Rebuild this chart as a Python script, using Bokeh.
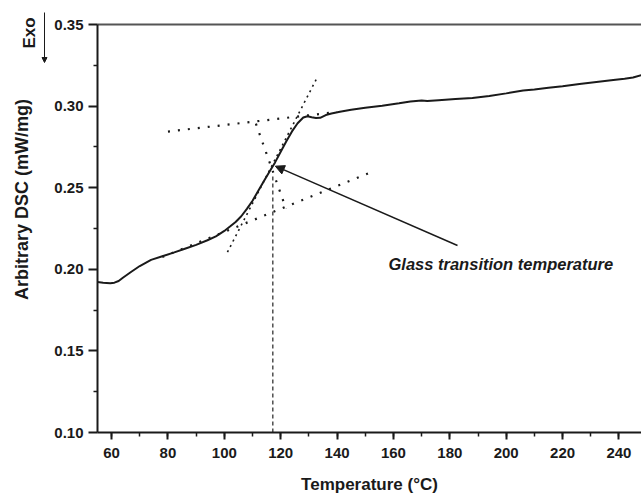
import math

from bokeh.core.properties import value
from bokeh.embed import file_html
from bokeh.layouts import row
from bokeh.models import (Arrow, FixedTicker, Label, LinearAxis, NormalHead,
                          NumeralTickFormatter, Range1d, SingleIntervalTicker)
from bokeh.plotting import figure
from bokeh.resources import INLINE

# DSC trace: temperature (°C) and heat flow (mW/mg)
temperature = [55, 57, 59.5, 61, 62.5, 64, 67, 70, 74, 78, 82, 86, 90, 94, 97,
               100, 102, 104, 106, 108, 110, 112, 114, 116, 118, 120, 122, 124,
               126, 128, 129.5, 131, 132.5, 134, 136, 138, 141, 145, 150, 156,
               162, 166, 170, 172, 176, 182, 188, 194, 200, 206, 210, 215, 220,
               226, 232, 238, 242, 245, 248]
dsc = [0.1922, 0.1918, 0.1915, 0.1918, 0.1928, 0.1948, 0.1985, 0.2020, 0.2058,
       0.2080, 0.2102, 0.2126, 0.2150, 0.2178, 0.2202, 0.2235, 0.2262, 0.2290,
       0.2325, 0.2370, 0.2420, 0.2480, 0.2540, 0.2598, 0.2655, 0.2720, 0.2785,
       0.2845, 0.2895, 0.2930, 0.2938, 0.2932, 0.2927, 0.2928, 0.2945, 0.2955,
       0.2966, 0.2978, 0.2990, 0.3002, 0.3017, 0.3028, 0.3035, 0.3031, 0.3036,
       0.3043, 0.3050, 0.3062, 0.3078, 0.3095, 0.3102, 0.3112, 0.3122, 0.3136,
       0.3148, 0.3160, 0.3168, 0.3175, 0.3190]

# Tangent construction used to locate Tg
upper_base_t = [80, 140]
upper_base_v = [0.2844, 0.2964]
lower_base_t = [78, 152]
lower_base_v = [0.2075, 0.2595]
steep_t = [101.1, 133.0]
steep_v = [0.2105, 0.3177]
bisect_t = [111.2, 121.9]
bisect_v = [0.2892, 0.2371]

tg = 117.2          # glass transition temperature
tg_signal = 0.2632  # curve value at Tg

y_ticks = [0.10, 0.15, 0.20, 0.25, 0.30, 0.35]
y_minor = [0.125, 0.175, 0.225, 0.275, 0.325]

X0, X1 = 55, 248
Y0, Y1 = 0.10, 0.35
W, H = 641, 496
SIDE = 50                      # strip holding the vertical titles
LEFT, RIGHT, TOP, BOTTOM = 97, 0, 24, 64
FW = W - LEFT - RIGHT
FH = H - TOP - BOTTOM


def dx(px):
    """canvas x pixel -> data x"""
    return X0 + (px - LEFT) * (X1 - X0) / FW


def dy(py):
    """canvas y pixel -> data y"""
    return Y0 + (H - BOTTOM - py) * (Y1 - Y0) / FH


FONT = "Liberation Sans"
INK = "#1a1a1a"

p = figure(width=W - SIDE, height=H, x_range=Range1d(X0, X1),
           y_range=Range1d(Y0, Y1),
           output_backend="svg", toolbar_location=None,
           min_border_left=LEFT - SIDE, min_border_right=RIGHT,
           min_border_top=TOP, min_border_bottom=BOTTOM,
           x_axis_location=None, y_axis_location=None)
p.frame_align = False
p.xgrid.visible = False
p.ygrid.visible = False
p.outline_line_color = None
p.background_fill_color = "white"
p.border_fill_color = "white"

xaxis = LinearAxis(ticker=SingleIntervalTicker(interval=20, num_minor_ticks=2),
                   axis_label="Temperature (°C)")
yaxis = LinearAxis(ticker=FixedTicker(ticks=y_ticks, minor_ticks=y_minor),
                   formatter=NumeralTickFormatter(format="0.00"))
for ax, tout in ((xaxis, 7), (yaxis, 9)):
    ax.axis_line_color = INK
    ax.axis_line_width = 2
    ax.major_tick_line_color = INK
    ax.minor_tick_line_color = INK
    ax.major_tick_line_width = 2
    ax.minor_tick_line_width = 1.5
    ax.major_tick_in = 0
    ax.minor_tick_in = 0
    ax.major_tick_out = tout
    ax.minor_tick_out = 4
    ax.major_label_text_font = FONT
    ax.major_label_text_font_style = "bold"
    ax.major_label_text_font_size = "15px"
    ax.major_label_text_color = INK
    ax.major_label_standoff = 5
xaxis.major_label_standoff = 8
xaxis.axis_label_text_font = FONT
xaxis.axis_label_text_font_style = "bold"
xaxis.axis_label_text_font_size = "17px"
xaxis.axis_label_text_color = INK
xaxis.axis_label_standoff = 14
p.add_layout(xaxis, "below")
p.add_layout(yaxis, "left")

top = LinearAxis(ticker=FixedTicker(ticks=[]), axis_line_color="#555555",
                 axis_line_width=2, major_tick_out=0, minor_tick_out=0,
                 major_label_text_font_size="0px")
p.add_layout(top, "above")

# construction lines
p.line(upper_base_t, upper_base_v, line_color=INK, line_width=2.2,
       line_dash="2 8")
p.line(lower_base_t, lower_base_v, line_color=INK, line_width=2.2,
       line_dash="2 8")
p.line(steep_t, steep_v, line_color=INK, line_width=1.6, line_dash="2 4")
p.line(bisect_t, bisect_v, line_color=INK, line_width=2.2, line_dash="2 8")
p.line([tg, tg], [Y0, tg_signal - 0.005], line_color="#333333", line_width=1.3,
       line_dash="4 3")

# DSC curve
p.line(temperature, dsc, line_color=INK, line_width=2)

# annotation arrow + text
p.add_layout(Arrow(end=NormalHead(size=9, fill_color=INK, line_color=INK),
                   x_start=dx(457), y_start=dy(245),
                   x_end=tg + 0.9, y_end=tg_signal,
                   line_color=INK, line_width=1.5))
p.add_layout(Label(x=dx(388), y=dy(263), text="Glass transition temperature",
                   text_font=FONT, text_font_style="bold italic",
                   text_font_size="16.5px", text_color=INK,
                   text_baseline="alphabetic", text_align="left"))

# side strip: y-axis title and exotherm direction marker (pixel coordinates)
side = figure(width=SIDE, height=H, x_range=Range1d(0, SIDE),
              y_range=Range1d(H, 0), output_backend="svg",
              toolbar_location=None, min_border=0,
              x_axis_location=None, y_axis_location=None)
side.frame_align = False
side.xgrid.visible = False
side.ygrid.visible = False
side.outline_line_color = None
side.border_fill_color = "white"
side.text(x=[21], y=[199], text=["Arbitrary DSC (mW/mg)"], angle=math.pi / 2,
          text_font=value(FONT), text_font_style="bold",
          text_font_size="18px", text_color=INK,
          text_align="center", text_baseline="middle")
side.text(x=[29], y=[32.5], text=["Exo"], angle=math.pi / 2,
          text_font=value(FONT), text_font_style="bold",
          text_font_size="17px", text_color=INK,
          text_align="center", text_baseline="middle")
side.add_layout(Arrow(end=NormalHead(size=5, fill_color=INK, line_color=INK),
                      x_start=44, y_start=12, x_end=44, y_end=62,
                      line_color=INK, line_width=1))

open("out.html", "w").write(file_html(row(side, p), INLINE))
